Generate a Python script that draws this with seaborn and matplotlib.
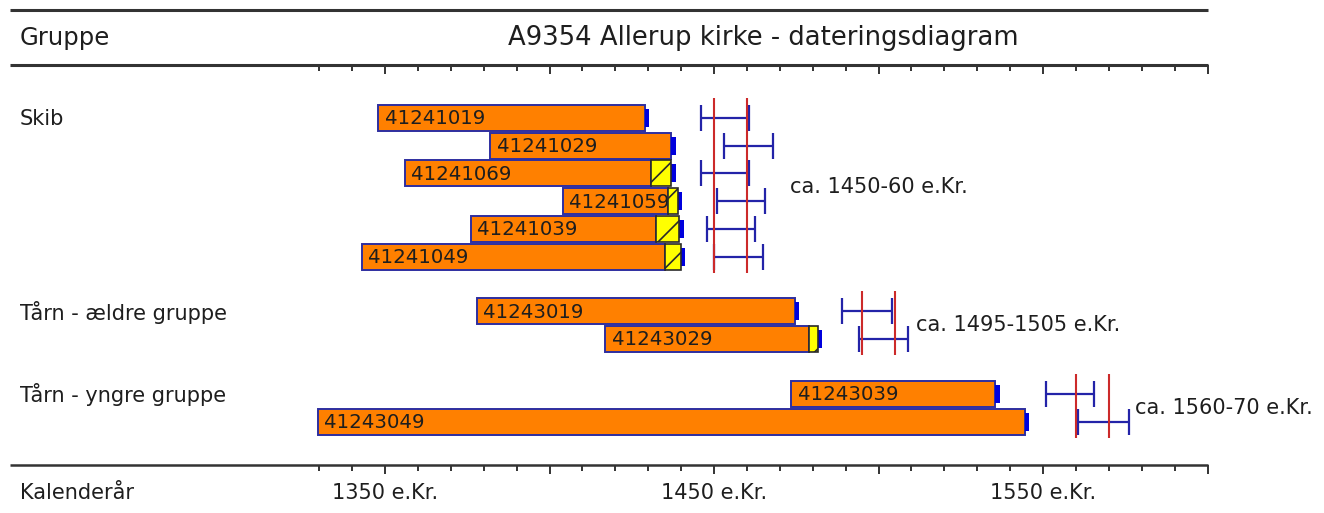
import numpy as np
import matplotlib
matplotlib.use("Agg")
import matplotlib.pyplot as plt
import seaborn as sns

# --- data (years AD) ---
samples = ["41241019", "41241029", "41241069", "41241059", "41241039", "41241049",
           "41243019", "41243029", "41243039", "41243049"]
groups = ["Skib"] * 6 + ["Tårn - ældre gruppe"] * 2 + ["Tårn - yngre gruppe"] * 2
first_ring = [1348, 1382, 1356, 1404, 1376, 1343, 1378, 1417, 1473.5, 1329.5]
heart_end = [1429, 1437, 1431, 1436, 1432.5, 1435, 1474.5, 1479, 1535.5, 1544.5]
sap_end = [1429, 1437, 1437, 1439, 1439.5, 1440, 1474.5, 1481.5, 1535.5, 1544.5]
fell_lo = [1446, 1453, 1446, 1451, 1448, 1450, 1489, 1494, 1551, 1560.5]
fell_hi = [1460.5, 1468, 1460.5, 1465.5, 1462.5, 1465, 1504, 1509, 1565.5, 1576]

group_names = ["Skib", "Tårn - ældre gruppe", "Tårn - yngre gruppe"]
group_from = [1450, 1495, 1560]
group_to = [1460, 1505, 1570]
group_text = ["ca. 1450-60 e.Kr.", "ca. 1495-1505 e.Kr.", "ca. 1560-70 e.Kr."]

axis_years = [1350, 1450, 1550]
axis_labels = ["1350 e.Kr.", "1450 e.Kr.", "1550 e.Kr."]

# --- layout (pixels of the 1324x513 picture) ---
PX_PER_YEAR = 3.29
X1350 = 385


def yr(px):
    return 1350 + (px - X1350) / PX_PER_YEAR


group_top = {"Skib": 118, "Tårn - ældre gruppe": 311, "Tårn - yngre gruppe": 394}
row_step = 27.7
bar_h = 26
label_pad = [5.0, 2.5, 2.0]

row_y = []
seen = {}
for g in groups:
    k = seen.get(g, 0)
    row_y.append(group_top[g] + k * row_step)
    seen[g] = k + 1

orange = "#ff8000"
border = "#2e2ea0"
cap_blue = "#0000dd"
bracket_blue = "#2323a8"
red = "#cc2a2a"
rule = "#333333"
ink = "#1e1e1e"
font = "DejaVu Sans"

sns.set_theme(style="white")
plt.rcParams["font.family"] = [font]
plt.rcParams["hatch.linewidth"] = 1.2

fig = plt.figure(figsize=(13.24, 5.13), dpi=100)
ax = fig.add_axes([0, 0, 1, 1])
ax.set_xlim(yr(0), yr(1324))
ax.set_ylim(513, 0)
ax.axis("off")

# header / footer rules and ticks
x_left, x_right = yr(10), yr(1208)
ax.hlines([10, 65], x_left, x_right, color=rule, lw=2.2)
ax.hlines(465, x_left, x_right, color=rule, lw=1.8)
tick_years = np.arange(1330, 1601, 10)
for t in tick_years:
    ln = 9 if t % 50 == 0 else 6
    ax.vlines(t, 65, 65 + ln, color=rule, lw=1.4)
    ax.vlines(t, 465, 465 + ln, color=rule, lw=1.4)

ax.text(yr(20), 38, "Gruppe", fontsize=17.5, va="center", ha="left", color=ink)
ax.text(yr(763), 38, "A9354 Allerup kirke - dateringsdiagram", fontsize=18.6,
        va="center", ha="center", color=ink)
ax.text(yr(20), 493, "Kalenderår", fontsize=15, va="center", ha="left", color=ink)
for y_, lab in zip(axis_years, axis_labels):
    ax.text(y_, 493, lab, fontsize=15, va="center", ha="center", color=ink)

# sample bars
for i, s in enumerate(samples):
    y = row_y[i]
    ax.barh(y, heart_end[i] - first_ring[i], left=first_ring[i], height=bar_h,
            color=orange, edgecolor=border, linewidth=1.4, zorder=2)
    if sap_end[i] > heart_end[i]:
        ax.barh(y, sap_end[i] - heart_end[i], left=heart_end[i], height=bar_h,
                color="#ffff00", edgecolor="#2a2a2a", hatch="/", linewidth=1.2, zorder=4)
    ax.barh(y, 1.3, left=sap_end[i], height=bar_h - 8, color=cap_blue,
            linewidth=0, zorder=3)
    ax.text(first_ring[i] + 1.9, y + 1, s, fontsize=14.2, va="center", ha="left",
            color=ink, zorder=3)
    # felling interval bracket
    ax.hlines(y, fell_lo[i], fell_hi[i], color=bracket_blue, lw=1.6, zorder=5)
    ax.vlines([fell_lo[i], fell_hi[i]], y - 13, y + 13, color=bracket_blue, lw=1.6, zorder=5)

# group labels, dating lines and texts
for j, g in enumerate(group_names):
    ys = [row_y[i] for i in range(len(samples)) if groups[i] == g]
    his = [fell_hi[i] for i in range(len(samples)) if groups[i] == g]
    ax.text(yr(20), ys[0] + 1, g, fontsize=15, va="center", ha="left", color=ink)
    ax.vlines([group_from[j], group_to[j]], ys[0] - 20, ys[-1] + 16, color=red, lw=1.5, zorder=6)
    ax.text(max(his) + label_pad[j], (ys[0] + ys[-1]) / 2, group_text[j], fontsize=15,
            va="center", ha="left", color=ink)

fig.savefig("out.png", dpi=100)
